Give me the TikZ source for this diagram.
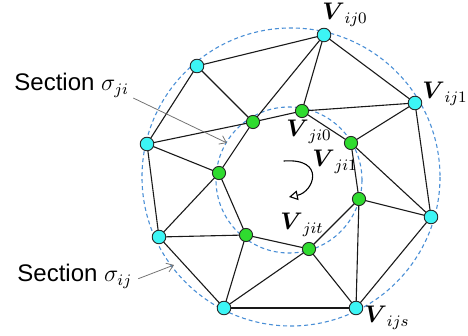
\documentclass[tikz,border=0pt]{standalone}
\usepackage{amsmath,amssymb}
\usepackage{fontspec}
\usepackage{xcolor}
\usepackage{tikz}
\usetikzlibrary{arrows.meta,positioning,calc,backgrounds}
\newfontfamily\sectfont{Liberation Sans}
\definecolor{outercyan}{HTML}{3CF5F5}
\definecolor{innergreen}{HTML}{2FDB2F}
\definecolor{dashblue}{HTML}{4A8FD6}
\definecolor{pointgray}{HTML}{747474}
\tikzset{
    every picture/.style={line cap=round,line join=round},
    outernode/.style={draw=black!85,circle,fill=outercyan,line width=0.45pt,
      minimum size=6.8pt,inner sep=0pt},
    innernode/.style={draw=black!85,circle,fill=innergreen,line width=0.45pt,
      minimum size=6.6pt,inner sep=0pt},
    meshedge/.style={draw=black!90,line width=0.55pt},
    sectioncircle/.style={draw=dashblue,line width=0.55pt,dash pattern=on 2pt off 1.5pt},
    vlabel/.style={inner sep=0pt,font=\fontsize{12}{14}\selectfont},
    sectlabel/.style={inner sep=0pt,font=\sectfont\fontsize{12}{14}\selectfont},
    pointer/.style={-{Straight Barb[length=3.2pt,width=4.6pt]},draw=pointgray,
      line width=0.4pt},
    turnarrow/.style={-{Triangle[open,length=4.4pt,width=4.8pt]},draw=black,
      line width=0.55pt}
}
\begin{document}
\begin{tikzpicture}[x=0.5pt,y=-0.5pt]
    \useasboundingbox (0,0) rectangle (468,336);
    % outer vertices, clockwise from V_ij0
    \node[outernode] (o0) at (324,35) {};
    \node[outernode] (o1) at (415,103) {};
    \node[outernode] (o2) at (431,217) {};
    \node[outernode] (o3) at (356,308) {};
    \node[outernode] (o4) at (224,308) {};
    \node[outernode] (o5) at (159,237) {};
    \node[outernode] (o6) at (147,144) {};
    \node[outernode] (o7) at (197,66) {};
    % inner vertices, clockwise from V_ji0
    \node[innernode] (in0) at (302,111) {};
    \node[innernode] (in1) at (351,143) {};
    \node[innernode] (in2) at (359,199) {};
    \node[innernode] (in3) at (309,249) {};
    \node[innernode] (in4) at (246,235) {};
    \node[innernode] (in5) at (219,173) {};
    \node[innernode] (in6) at (253,122) {};
    % sections and mesh edges behind the vertices
    \begin{scope}[on background layer]
    \draw[sectioncircle] (291,177) circle (149);
    \draw[sectioncircle] (289,180) circle (73);
    \foreach \a/\b in {o0/o1,o1/o2,o2/o3,o3/o4,o4/o5,o5/o6,o6/o7,o7/o0,
        in0/in1,in1/in2,in2/in3,in3/in4,in4/in5,in5/in6,in6/in0,
        o0/in6,o0/in0,o7/in6,o6/in6,o6/in5,o5/in5,o5/in4,o4/in4,
        o4/in3,o3/in3,o3/in2,o2/in2,o2/in1,o1/in1,o1/in0}
      \draw[meshedge] (\a.center) -- (\b.center);
    \end{scope}
    % vertex labels
    \node[vlabel] (lij0) at (345,15) {$\boldsymbol{V}_{ij0}$};
    \node[vlabel] (lij1) at (445,94) {$\boldsymbol{V}_{ij1}$};
    \node[vlabel] (lji0) at (309,132) {$\boldsymbol{V}_{ji0}$};
    \node[vlabel] (lji1) at (335,162) {$\boldsymbol{V}_{ji1}$};
    \node[vlabel] (ljit) at (302,225) {$\boldsymbol{V}_{jit}$};
    \node[vlabel] (lijs) at (387,318) {$\boldsymbol{V}_{ijs}$};
    % section names
    \node[sectlabel,anchor=base west] (secji) at (14,91) {Section $\sigma_{ji}$};
    \node[sectlabel,anchor=base west] (secij) at (17,282) {Section $\sigma_{ij}$};
    \coordinate (tipji) at (227,143);
    \coordinate (tipij) at (174,265);
    \draw[pointer] ([xshift=2pt]secji.south east) -- (tipji);
    \draw[pointer] ([xshift=3pt,yshift=-1pt]secij.east) -- (tipij);
    % turning direction
    \coordinate (turnstart) at (284,161);
    \coordinate (turnend) at (289,197);
    \draw[turnarrow] (turnstart) .. controls (326,158) and (314,192) .. (turnend);
\end{tikzpicture}
\end{document}
